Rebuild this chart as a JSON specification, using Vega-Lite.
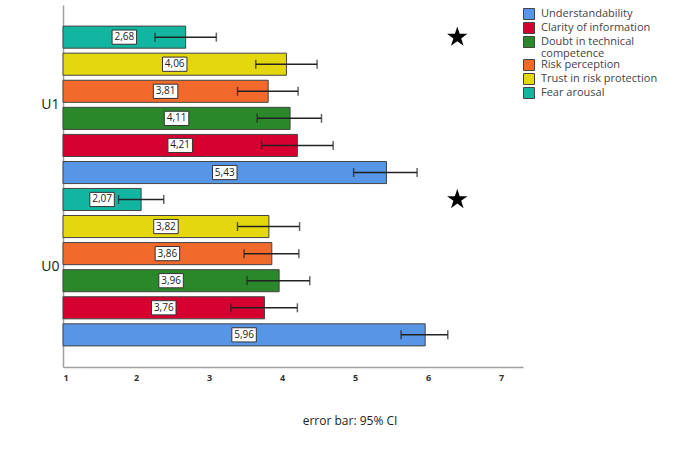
{
  "$schema": "https://vega.github.io/schema/vega-lite/v6.json",
  "width": 460,
  "height": 362,
  "autosize": {"type": "none"},
  "padding": {"left": 63, "top": 5, "right": 177, "bottom": 91},
  "background": "white",
  "config": {
    "view": {"stroke": null},
    "font": "Open Sans",
    "locale": {"number": {"decimal": ",", "thousands": ".", "grouping": [3], "currency": ["", " €"]}},
    "style": {"guide-label": {"lineHeight": 12}}
  },
  "title": {
    "text": "error bar: 95% CI",
    "orient": "bottom",
    "anchor": "middle",
    "frame": "group",
    "dx": 57,
    "offset": 34,
    "fontSize": 12,
    "fontWeight": "normal",
    "color": "#222"
  },
  "datasets": {
    "bars": [
      {"group": "U1", "category": "Fear arousal", "mean": 2.68, "lo": 2.26, "hi": 3.10},
      {"group": "U1", "category": "Trust in risk protection", "mean": 4.06, "lo": 3.64, "hi": 4.48},
      {"group": "U1", "category": "Risk perception", "mean": 3.81, "lo": 3.39, "hi": 4.22},
      {"group": "U1", "category": "Doubt in technical competence", "mean": 4.11, "lo": 3.66, "hi": 4.54},
      {"group": "U1", "category": "Clarity of information", "mean": 4.21, "lo": 3.72, "hi": 4.70},
      {"group": "U1", "category": "Understandability", "mean": 5.43, "lo": 4.98, "hi": 5.85},
      {"group": "U0", "category": "Fear arousal", "mean": 2.07, "lo": 1.76, "hi": 2.38},
      {"group": "U0", "category": "Trust in risk protection", "mean": 3.82, "lo": 3.39, "hi": 4.24},
      {"group": "U0", "category": "Risk perception", "mean": 3.86, "lo": 3.48, "hi": 4.23},
      {"group": "U0", "category": "Doubt in technical competence", "mean": 3.96, "lo": 3.52, "hi": 4.38},
      {"group": "U0", "category": "Clarity of information", "mean": 3.76, "lo": 3.30, "hi": 4.21},
      {"group": "U0", "category": "Understandability", "mean": 5.96, "lo": 5.63, "hi": 6.27}
    ],
    "stars": [
      {"group": "U1", "category": "Fear arousal", "x": 6.4},
      {"group": "U0", "category": "Fear arousal", "x": 6.4}
    ]
  },
  "encoding": {
    "y": {
      "field": "group", "type": "nominal",
      "scale": {"domain": ["U1", "U0"], "paddingInner": 0, "paddingOuter": 0.115},
      "axis": {"title": null, "ticks": false, "labelFontSize": 14, "labelColor": "#222", "labelPadding": 4, "domainColor": "#a0a0a0", "domainWidth": 1.5}
    },
    "yOffset": {
      "field": "category", "type": "nominal",
      "scale": {"domain": ["Fear arousal", "Trust in risk protection", "Risk perception", "Doubt in technical competence", "Clarity of information", "Understandability"], "paddingInner": 0.185, "paddingOuter": 0.09}
    }
  },
  "layer": [
    {
      "data": {"name": "bars"},
      "mark": {"type": "bar", "stroke": "#444", "strokeWidth": 1},
      "encoding": {
        "x": {
          "field": "mean", "type": "quantitative",
          "scale": {"domain": [1, 7.3], "zero": false, "nice": false},
          "axis": {"title": null, "values": [1, 2, 3, 4, 5, 6, 7], "ticks": false, "grid": false, "labelFontSize": 9, "labelFontWeight": "bold", "labelColor": "#333", "labelPadding": 6, "domainColor": "#a0a0a0", "domainWidth": 1.5, "format": "d"}
        },
        "x2": {"datum": 1},
        "color": {
          "field": "category", "type": "nominal",
          "scale": {
            "domain": ["Understandability", "Clarity of information", "Doubt in technical competence", "Risk perception", "Trust in risk protection", "Fear arousal"],
            "range": ["#5795e6", "#d50030", "#2a872a", "#f26a2b", "#e4d70d", "#11b5a0"]
          },
          "legend": {
            "title": null,
            "orient": "none",
            "legendX": 460,
            "legendY": 3,
            "symbolType": "square",
            "symbolSize": 121,
            "symbolStrokeColor": "#444",
            "symbolStrokeWidth": 1,
            "symbolOffset": 0,
            "labelOffset": 6,
            "labelFontSize": 11,
            "labelColor": "#444",
            "rowPadding": -2,
            "padding": 0,
            "labelLimit": 300,
            "labelExpr": "datum.label == 'Doubt in technical competence' ? ['Doubt in technical', 'competence'] : datum.label"
          }
        }
      }
    },
    {
      "data": {"name": "bars"},
      "mark": {"type": "rule", "color": "#222", "strokeWidth": 1.5},
      "encoding": {"x": {"field": "lo", "type": "quantitative"}, "x2": {"field": "hi"}}
    },
    {
      "data": {"name": "bars"},
      "mark": {"type": "tick", "color": "#222", "thickness": 1.5, "size": 9},
      "encoding": {"x": {"field": "lo", "type": "quantitative"}}
    },
    {
      "data": {"name": "bars"},
      "mark": {"type": "tick", "color": "#222", "thickness": 1.5, "size": 9},
      "encoding": {"x": {"field": "hi", "type": "quantitative"}}
    },
    {
      "data": {"name": "bars"},
      "transform": [{"calculate": "(1 + datum.mean) / 2", "as": "mid"}],
      "mark": {"type": "point", "shape": "M-1,-0.58L1,-0.58L1,0.58L-1,0.58Z", "size": 600, "filled": true, "fill": "white", "stroke": "#333", "strokeWidth": 1, "opacity": 1},
      "encoding": {"x": {"field": "mid", "type": "quantitative"}}
    },
    {
      "data": {"name": "bars"},
      "transform": [{"calculate": "(1 + datum.mean) / 2", "as": "mid"}],
      "mark": {"type": "text", "fontSize": 10, "color": "#222"},
      "encoding": {
        "x": {"field": "mid", "type": "quantitative"},
        "text": {"field": "mean", "type": "quantitative", "format": ".2f"}
      }
    },
    {
      "data": {"name": "stars"},
      "mark": {"type": "point", "shape": "M0,-1L0.224,-0.309L0.951,-0.309L0.363,0.118L0.588,0.809L0,0.382L-0.588,0.809L-0.363,0.118L-0.951,-0.309L-0.224,-0.309Z", "size": 460, "filled": true, "fill": "black", "opacity": 1, "strokeWidth": 0},
      "encoding": {"x": {"field": "x", "type": "quantitative"}}
    }
  ]
}
